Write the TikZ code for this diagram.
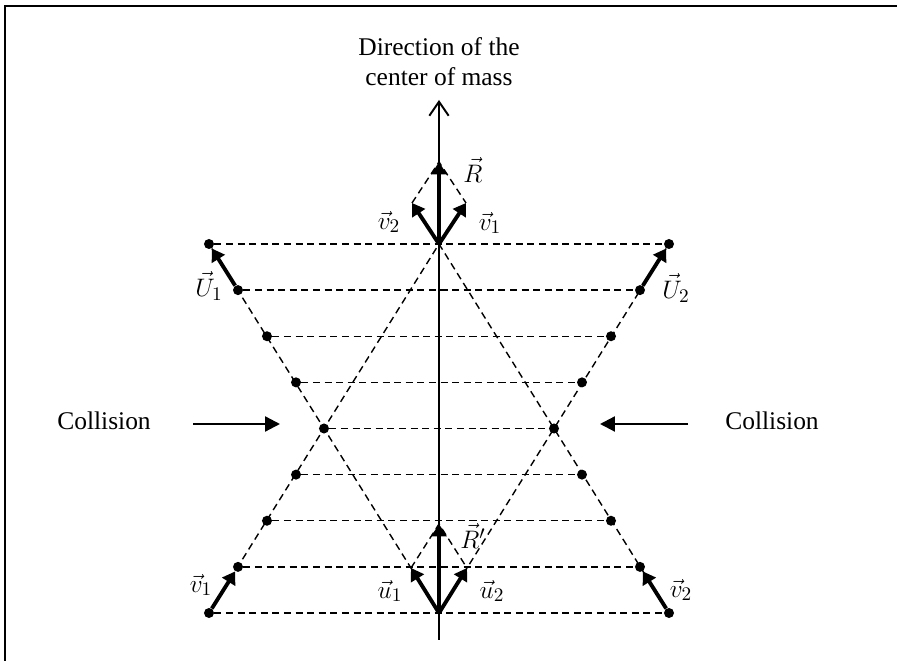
\documentclass[tikz,border=0pt]{standalone}
\usepackage{fontspec}
\setmainfont{Liberation Serif}
\usetikzlibrary{arrows.meta}

\begin{document}
\begin{tikzpicture}[x=0.02cm,y=-0.02cm,
  dot/.style={circle,fill,inner sep=0pt,minimum size=5.7pt},
  guide/.style={dash pattern=on 4pt off 2.6pt,line width=0.8pt},
  vec/.style={line width=2.2pt,-{Triangle[length=7pt,width=8.5pt]}},
  push/.style={line width=1.3pt,-{Triangle[length=8.5pt,width=8.5pt]}},
  lbl/.style={font=\fontsize{15.5}{17}\selectfont,inner sep=1pt},
  txt/.style={font=\fontsize{14.5}{17}\selectfont,align=center}]
  \useasboundingbox (0,0) rectangle (897,661);
  % frame, only top and left edges are seen
  \draw[line width=1.2pt] (5,661) -- (5,6) -- (897,6);
  % the two paths, row by row
  \foreach \k/\d in {0/230,1/201,2/172,3/143,4/115,5/143,6/172,7/201,8/230} {
    \node[dot] (L\k) at (439-\d,244+46.125*\k) {};
    \node[dot] (R\k) at (439+\d,244+46.125*\k) {};
    \draw[guide] (L\k) -- (R\k);
  }
  \coordinate (top) at (439,244);
  \coordinate (bot) at (439,613);
  \draw[guide] (L0) -- (bot) -- (R0);
  \draw[guide] (L8) -- (top) -- (R8);
  % axis
  \coordinate (axb) at (439,640);
  \coordinate (axt) at (439,100);
  \draw[line width=1.1pt,-{Straight Barb[length=8pt,width=11pt]}] (axb) -- (axt);
  % sums at the top and the bottom
  \coordinate (v1t) at (466,203);
  \coordinate (v2t) at (412,203);
  \coordinate (Rt) at (439,162);
  \draw[guide] (v2t) -- (Rt) -- (v1t);
  \draw[vec] (top) -- (v1t);
  \draw[vec] (top) -- (v2t);
  \draw[vec] (top) -- (Rt);
  \coordinate (u1t) at (411,568);
  \coordinate (u2t) at (467,568);
  \coordinate (Rpt) at (439,524);
  \draw[guide] (u1t) -- (Rpt) -- (u2t);
  \draw[vec] (bot) -- (u1t);
  \draw[vec] (bot) -- (u2t);
  \draw[vec] (bot) -- (Rpt);
  % velocities on the paths
  \draw[vec] (L1) -- (L0);
  \draw[vec] (R1) -- (R0);
  \draw[vec] (L8) -- (L7);
  \draw[vec] (R8) -- (R7);
  % collision
  \coordinate (cl0) at (193,424);
  \coordinate (cl1) at (280,424);
  \coordinate (cr0) at (688,424);
  \coordinate (cr1) at (600,424);
  \draw[push] (cl0) -- (cl1);
  \draw[push] (cr0) -- (cr1);
  \node[txt] (title) at (439,62) {Direction of the\\center of mass};
  \node[txt] (colL) at (104,421) {Collision};
  \node[txt] (colR) at (772,421) {Collision};
  % labels
  \node[lbl] (labR) at (473,170) {$\vec{R}$};
  \node[lbl] (labv2) at (389,222) {$\vec{v}_2$};
  \node[lbl] (labv1) at (490,223) {$\vec{v}_1$};
  \node[lbl] (labU1) at (209,286) {$\vec{U}_1$};
  \node[lbl] (labU2) at (676,288) {$\vec{U}_2$};
  \node[lbl] (labva) at (201,585) {$\vec{v}_1$};
  \node[lbl] (labvb) at (681,590) {$\vec{v}_2$};
  \node[lbl] (labu1) at (390,591) {$\vec{u}_1$};
  \node[lbl] (labu2) at (492,591) {$\vec{u}_2$};
  \node[lbl] (labRp) at (473,536) {$\vec{R}'$};
\end{tikzpicture}
\end{document}
